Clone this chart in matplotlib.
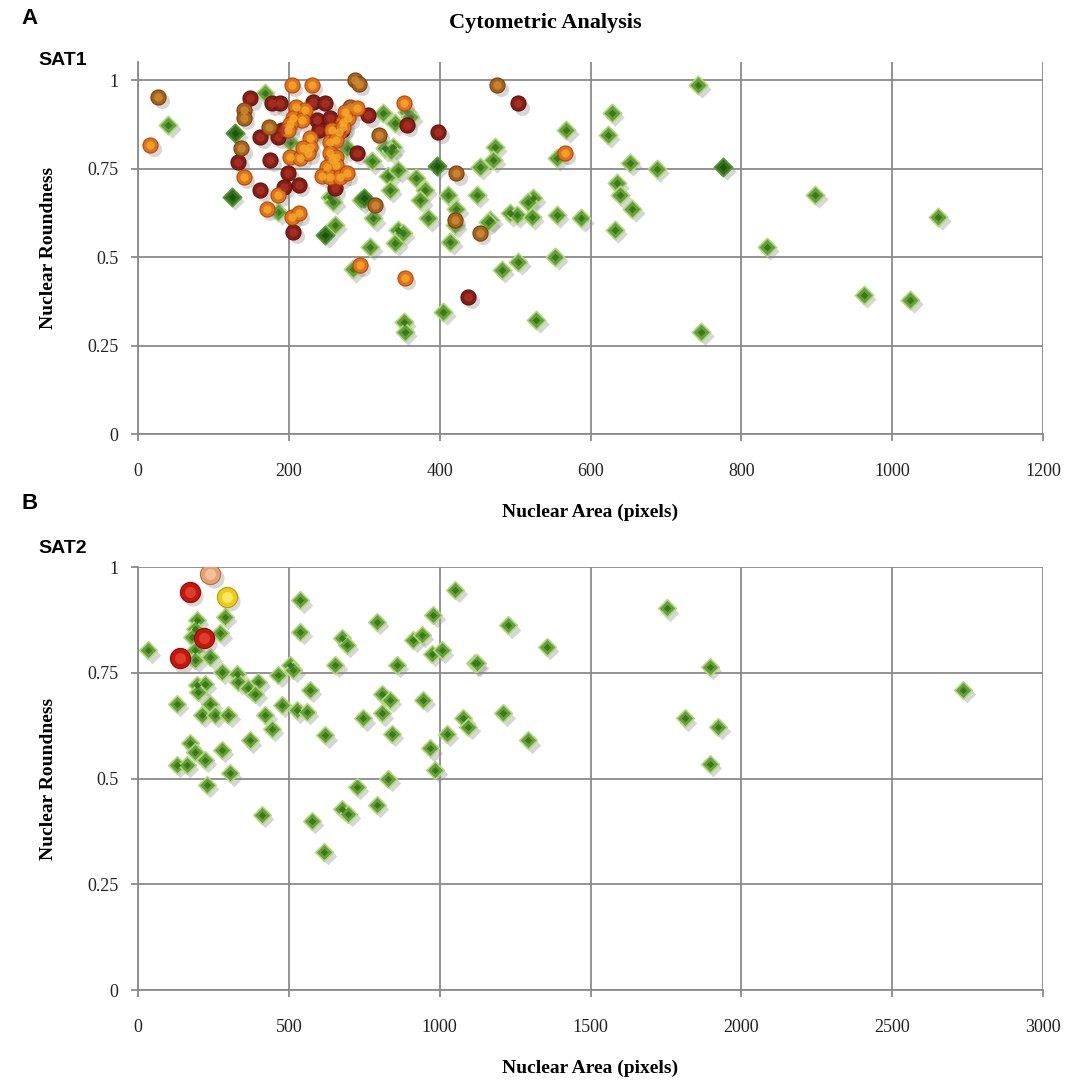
import numpy as np
import matplotlib
matplotlib.use("Agg")
import matplotlib.pyplot as plt
from matplotlib.transforms import offset_copy

# ---- SAT1 (panel A) ----
a_orange_x = [16, 204, 230, 352, 210, 221, 206, 217, 272, 279, 202, 199, 228, 228, 257, 266, 272,
              255, 263, 202, 215, 226, 219, 255, 263, 257, 250, 263, 244, 255, 268, 277, 186, 171,
              204, 213, 294, 354, 566, 140, 275, 290]
a_orange_y = [0.816, 0.986, 0.986, 0.934, 0.925, 0.915, 0.892, 0.887, 0.882, 0.892, 0.877, 0.859,
              0.835, 0.812, 0.859, 0.854, 0.868, 0.826, 0.831, 0.783, 0.779, 0.793, 0.807, 0.793,
              0.783, 0.774, 0.755, 0.76, 0.73, 0.727, 0.727, 0.736, 0.675, 0.637, 0.614, 0.623,
              0.477, 0.44, 0.793, 0.727, 0.91, 0.92]
a_brown_x = [27, 288, 293, 476, 281, 140, 140, 173, 137, 319, 314, 422, 420, 453]
a_brown_y = [0.953, 1.0, 0.99, 0.986, 0.925, 0.915, 0.892, 0.868, 0.807, 0.845, 0.647, 0.736,
             0.605, 0.567]
a_red_x = [149, 177, 188, 232, 248, 305, 237, 255, 162, 186, 191, 290, 133, 175, 199, 213, 193,
           162, 261, 206, 356, 398, 504, 438, 270, 240]
a_red_y = [0.948, 0.934, 0.934, 0.939, 0.934, 0.90, 0.887, 0.892, 0.84, 0.84, 0.859, 0.793, 0.769,
           0.774, 0.736, 0.703, 0.699, 0.689, 0.694, 0.572, 0.873, 0.854, 0.934, 0.388, 0.86, 0.86]
a_green_x = [40, 168, 239, 202, 277, 255, 259, 186, 261, 325, 341, 357, 361, 327, 338, 310, 332,
             345, 369, 334, 380, 374, 411, 449, 296, 312, 385, 422, 420, 467, 493, 502, 522, 524,
             517, 555, 588, 345, 341, 308, 414, 553, 482, 504, 285, 405, 352, 354, 528, 568, 473,
             471, 555, 453, 628, 623, 652, 688, 635, 639, 655, 632, 743, 898, 1061, 834, 962,
             1024, 747, 335, 351, 464]
a_green_y = [0.873, 0.962, 0.854, 0.826, 0.807, 0.67, 0.656, 0.628, 0.59, 0.906, 0.88, 0.91, 0.895,
             0.807, 0.81, 0.77, 0.73, 0.745, 0.722, 0.689, 0.689, 0.66, 0.675, 0.675, 0.66, 0.609,
             0.609, 0.637, 0.59, 0.605, 0.623, 0.619, 0.614, 0.666, 0.656, 0.619, 0.609, 0.576,
             0.539, 0.529, 0.543, 0.50, 0.463, 0.487, 0.465, 0.345, 0.317, 0.289, 0.322, 0.859,
             0.81, 0.774, 0.78, 0.755, 0.906, 0.845, 0.765, 0.75, 0.708, 0.675, 0.637, 0.576,
             0.986, 0.675, 0.614, 0.529, 0.393, 0.379, 0.289, 0.8, 0.567, 0.6]
a_dkgreen_x = [129, 124, 248, 396, 776, 299]
a_dkgreen_y = [0.851, 0.67, 0.562, 0.757, 0.755, 0.666]

# ---- SAT2 (panel B) ----
b_red_x = [172, 217, 139]
b_red_y = [0.941, 0.831, 0.784]
b_peach_x = [239]
b_peach_y = [0.984]
b_yellow_x = [294]
b_yellow_y = [0.929]
b_green_x = [537, 288, 195, 189, 272, 537, 34, 178, 189, 189, 239, 277, 327, 332, 465, 504, 515,
             399, 366, 388, 195, 222, 200, 128, 239, 211, 255, 299, 570, 476, 421, 443, 526, 559,
             653, 675, 692, 791, 858, 979, 1051, 913, 940, 973, 1007, 1117, 808, 835, 747, 808,
             946, 841, 620, 371, 172, 189, 222, 277, 128, 161, 305, 228, 410, 576, 675, 697, 725,
             791, 830, 985, 968, 1023, 1078, 1095, 1227, 1355, 1123, 1752, 1896, 1211, 1294,
             1813, 1924, 1896, 2735, 617]
b_green_y = [0.921, 0.882, 0.874, 0.854, 0.843, 0.846, 0.803, 0.835, 0.803, 0.78, 0.787, 0.752,
             0.748, 0.728, 0.744, 0.768, 0.756, 0.728, 0.713, 0.70, 0.72, 0.724, 0.705, 0.677,
             0.677, 0.65, 0.65, 0.65, 0.709, 0.673, 0.65, 0.618, 0.661, 0.657, 0.768, 0.831, 0.815,
             0.87, 0.768, 0.886, 0.945, 0.827, 0.839, 0.795, 0.803, 0.772, 0.70, 0.685, 0.642,
             0.654, 0.685, 0.606, 0.602, 0.59, 0.583, 0.563, 0.543, 0.567, 0.532, 0.532, 0.512,
             0.484, 0.413, 0.40, 0.429, 0.417, 0.48, 0.437, 0.50, 0.52, 0.571, 0.606, 0.642,
             0.622, 0.862, 0.811, 0.772, 0.902, 0.764, 0.654, 0.59, 0.642, 0.622, 0.535, 0.709,
             0.326]

yticks = [0, 0.25, 0.5, 0.75, 1]
ytick_labels = ["0", "0.25", "0.5", "0.75", "1"]
a_xticks = [0, 200, 400, 600, 800, 1000, 1200]
b_xticks = [0, 500, 1000, 1500, 2000, 2500, 3000]

SERIF = "Liberation Serif"
SANS = "Liberation Sans"
GRID = "#8a8a8a"


def shadow(ax, fig):
    return offset_copy(ax.transData, fig=fig, x=2.5, y=-3, units="points")


def diamonds(ax, fig, x, y, face, light, dark, s=88):
    ax.scatter(x, y, s=s, marker="D", color="#8a8a8a", alpha=0.35, linewidths=0,
               transform=shadow(ax, fig), zorder=3)
    ax.scatter(x, y, s=s, marker="D", facecolor=face, edgecolor=light, linewidths=1.2, zorder=4)
    ax.scatter(x, y, s=s * 0.18, marker="D", color=dark, linewidths=0, zorder=5)


def balls(ax, fig, x, y, face, hi, edge, s=118):
    ax.scatter(x, y, s=s, marker="o", color="#8a8a8a", alpha=0.35, linewidths=0,
               transform=shadow(ax, fig), zorder=6)
    ax.scatter(x, y, s=s, marker="o", facecolor=face, edgecolor=edge, linewidths=0.8, zorder=7)
    ax.scatter(x, y, s=s * 0.3, marker="o", color=hi, alpha=0.8, linewidths=0, zorder=8)


def style(ax, xticks, xmax, ytop):
    ax.set_xlim(0, xmax)
    ax.set_ylim(0, ytop)
    ax.set_xticks(xticks)
    ax.set_xticklabels([str(t) for t in xticks])
    ax.set_yticks(yticks)
    ax.set_yticklabels(ytick_labels)
    ax.grid(True, color=GRID, linewidth=1.3)
    ax.set_axisbelow(True)
    for sp in ["top", "right"]:
        ax.spines[sp].set_visible(False)
    for sp in ["left", "bottom"]:
        ax.spines[sp].set_color(GRID)
        ax.spines[sp].set_linewidth(1.3)
    ax.tick_params(direction="out", length=5, width=1.3, color=GRID,
                   labelsize=13, labelcolor="#222222")
    ax.tick_params(axis="y", pad=9)
    ax.tick_params(axis="x", pad=16)
    for lab in ax.get_xticklabels() + ax.get_yticklabels():
        lab.set_fontfamily(SERIF)
    ax.set_ylabel("Nuclear Roundness", fontfamily=SERIF, fontweight="bold", fontsize=14,
                  labelpad=22)
    ax.set_xlabel("Nuclear Area (pixels)", fontfamily=SERIF, fontweight="bold", fontsize=14,
                  labelpad=17)


fig = plt.figure(figsize=(10.71, 10.80), dpi=100)
axA = fig.add_axes([0.1289, 0.5981, 0.845, 0.3442])
axB = fig.add_axes([0.1289, 0.0833, 0.845, 0.3917])

style(axA, a_xticks, 1200, 1.05)
style(axB, b_xticks, 3000, 1.0)

diamonds(axA, fig, a_green_x, a_green_y, "#64a234", "#b4d684", "#3a7720")
diamonds(axA, fig, a_dkgreen_x, a_dkgreen_y, "#2f7419", "#5a9a38", "#1d5210")
balls(axA, fig, a_red_x, a_red_y, "#8a1c16", "#a83424", "#5e120c")
balls(axA, fig, a_brown_x, a_brown_y, "#a8621e", "#cf8c34", "#74400f")
balls(axA, fig, a_orange_x, a_orange_y, "#e4701a", "#f2ae2a", "#b04a10")

diamonds(axB, fig, b_green_x, b_green_y, "#64a234", "#b4d684", "#3a7720", s=80)
balls(axB, fig, b_red_x, b_red_y, "#c8160e", "#e04a30", "#8a0c06", s=210)
balls(axB, fig, b_peach_x, b_peach_y, "#e6a074", "#f4c8a4", "#b87048", s=210)
balls(axB, fig, b_yellow_x, b_yellow_y, "#eecb18", "#faf07a", "#b89a08", s=210)

fig.text(0.509, 0.979, "Cytometric Analysis", ha="center", va="center", fontfamily=SERIF,
         fontweight="bold", fontsize=16)
fig.text(0.020, 0.983, "A", ha="left", va="center", fontfamily=SANS, fontweight="bold", fontsize=16)
fig.text(0.036, 0.944, "SAT1", ha="left", va="center", fontfamily=SANS, fontweight="bold",
         fontsize=14)
fig.text(0.020, 0.534, "B", ha="left", va="center", fontfamily=SANS, fontweight="bold", fontsize=16)
fig.text(0.036, 0.492, "SAT2", ha="left", va="center", fontfamily=SANS, fontweight="bold",
         fontsize=14)

fig.savefig("out.png", dpi=100, facecolor="white")
